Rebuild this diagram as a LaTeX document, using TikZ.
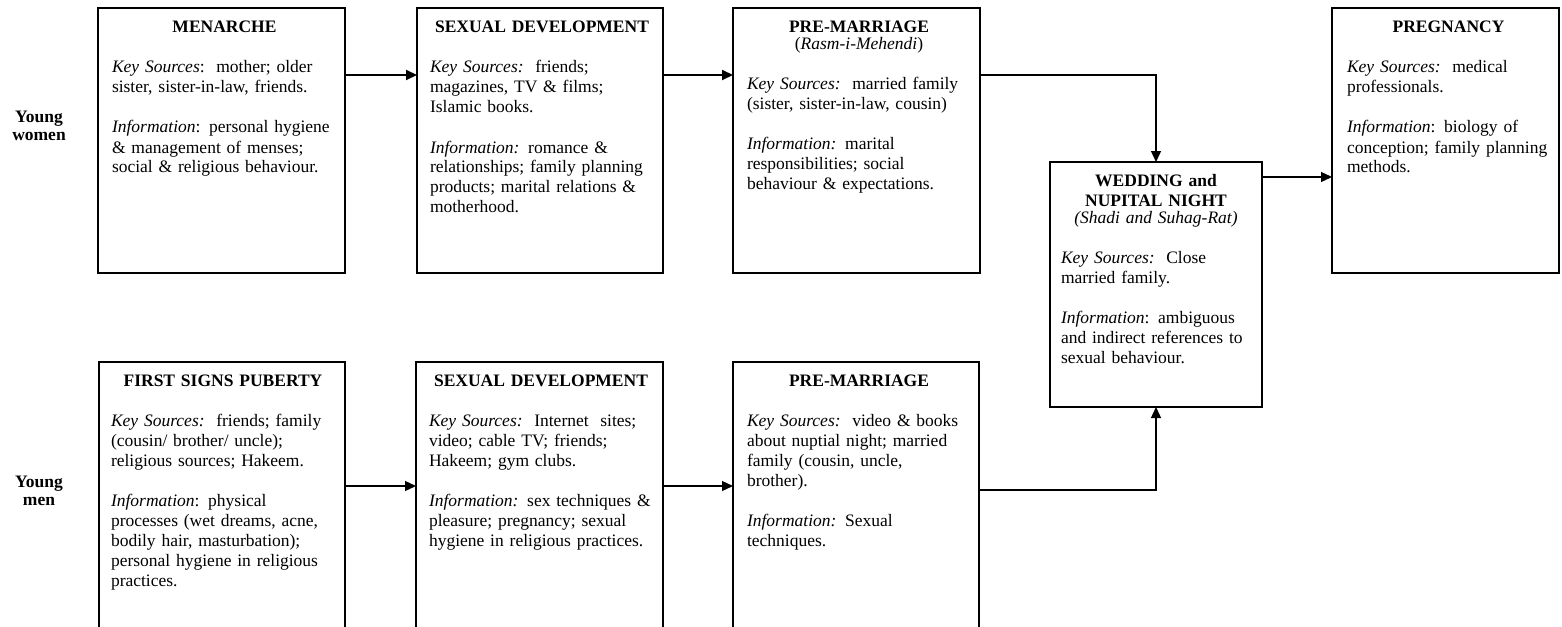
\documentclass[tikz,border=0pt]{standalone}
\usepackage{fontspec}
\setmainfont{Liberation Serif}
\usetikzlibrary{arrows.meta}
\newcommand\hd[1]{{\centering\strut\textbf{#1}\par}}
\newcommand\sub[1]{\vspace{-3pt}{\centering #1\par}}
\newcommand\gap{\vspace{20pt}}
\tikzset{
  stage/.style={draw=black, line width=1.6pt, fill=white, anchor=north west, inner sep=0pt, outer sep=0pt},
  txt/.style={anchor=north west, inner sep=0pt, outer sep=0pt,
    font=\fontsize{17.5}{20}\selectfont, execute at begin node={\parindent=0pt\raggedright}},
  lab/.style={align=center, inner sep=0pt, font=\fontsize{17.5}{18}\selectfont\bfseries},
  arr/.style={draw=black, line width=1.3pt, -{Triangle[length=11pt,width=10pt]}},
  arrT/.style={arr, line width=2pt}
}
\begin{document}
\begin{tikzpicture}[x=1pt, y=-1pt]
\fill[white] (0,0) rectangle (1562,626);
\clip (0,0) rectangle (1562,626);

% labels
\node[lab] (yw) at (39,126) {Young\\women};
\node[lab] (ym) at (39,491) {Young\\men};

% top row boxes
\node[stage, minimum width=247pt, minimum height=265pt] (m) at (98,8) {};
\node[stage, minimum width=246pt, minimum height=265pt] (sd1) at (417,8) {};
\node[stage, minimum width=247pt, minimum height=265pt] (pm1) at (733,8) {};
\node[stage, minimum width=227pt, minimum height=265pt] (preg) at (1332,8) {};
\node[stage, minimum width=212pt, minimum height=245pt] (wed) at (1050,162) {};
% bottom row boxes
\node[stage, minimum width=246pt, minimum height=330pt] (fsp) at (99,362) {};
\node[stage, minimum width=247pt, minimum height=330pt] (sd2) at (416,362) {};
\node[stage, minimum width=246pt, minimum height=330pt] (pm2) at (733,362) {};

% texts top row
\node[txt, text width=225pt] (mT) at ([shift={(14,11)}]m.north west) {\hd{MENARCHE}\gap
\textit{Key Sources}:\ \ mother; older\\ sister, sister-in-law, friends.\par\gap
\textit{Information}: personal hygiene\\ \& management of menses;\\ social \& religious behaviour.};

\node[txt, text width=224pt] (sd1T) at ([shift={(13,11)}]sd1.north west) {\hd{SEXUAL DEVELOPMENT}\gap
\textit{Key Sources:}\ \ friends;\\ magazines, TV \& films;\\ Islamic books.\par\gap
\textit{Information:} romance \&\\ relationships; family planning\\ products; marital relations \&\\ motherhood.};

\node[txt, text width=224pt] (pm1T) at ([shift={(14,11)}]pm1.north west) {\hd{PRE-MARRIAGE}\sub{(\textit{Rasm-i-Mehendi})}\gap
\textit{Key Sources:}\ \ married family\\ (sister, sister-in-law, cousin)\par\gap
\textit{Information:} marital\\ responsibilities; social\\ behaviour \& expectations.};

\node[txt, text width=203pt] (pregT) at ([shift={(15,11)}]preg.north west) {\hd{PREGNANCY}\gap
\textit{Key Sources:}\ \ medical\\ professionals.\par\gap
\textit{Information}: biology of\\ conception; family planning\\ methods.};

\node[txt, text width=190pt] (wedT) at ([shift={(11,10)}]wed.north west) {\hd{WEDDING and}\hd{NUPITAL NIGHT}\sub{\textit{(Shadi and Suhag-Rat)}}\gap
\textit{Key Sources:}\ \ Close\\ married family.\par\gap
\textit{Information}: ambiguous\\ and indirect references to\\ sexual behaviour.};

% texts bottom row
\node[txt, text width=224pt] (fspT) at ([shift={(12,10)}]fsp.north west) {\hd{FIRST SIGNS PUBERTY}\gap
\textit{Key Sources:}\ \ friends; family\\ (cousin/ brother/ uncle);\\ religious sources; Hakeem.\par\gap
\textit{Information}: physical\\ processes (wet dreams, acne,\\ bodily hair, masturbation);\\ personal hygiene in religious\\ practices.};

\node[txt, text width=224pt] (sd2T) at ([shift={(13,10)}]sd2.north west) {\hd{SEXUAL DEVELOPMENT}\gap
\textit{Key Sources:}\ \ Internet\ \ sites;\\ video; cable TV; friends;\\ Hakeem; gym clubs.\par\gap
\textit{Information:} sex techniques \&\\ pleasure; pregnancy; sexual\\ hygiene in religious practices.};

\node[txt, text width=224pt] (pm2T) at ([shift={(14,10)}]pm2.north west) {\hd{PRE-MARRIAGE}\gap
\textit{Key Sources:}\ \ video \& books\\ about nuptial night; married\\ family (cousin, uncle,\\ brother).\par\gap
\textit{Information:} Sexual\\ techniques.};

% connectors
\coordinate (ya) at (0,75);
\coordinate (yb) at (0,177);
\coordinate (yc) at (0,486);
\coordinate (yd) at (0,490);
\draw[arrT] (m.east |- ya) -- (sd1.west |- ya);
\draw[arrT] (sd1.east |- ya) -- (pm1.west |- ya);
\draw[arr] (pm1.east |- ya) -| (wed.north);
\draw[arr] (wed.east |- yb) -- (preg.west |- yb);
\draw[arr] (fsp.east |- yc) -- (sd2.west |- yc);
\draw[arr] (sd2.east |- yc) -- (pm2.west |- yc);
\draw[arr] (pm2.east |- yd) -| (wed.south);
\end{tikzpicture}
\end{document}
